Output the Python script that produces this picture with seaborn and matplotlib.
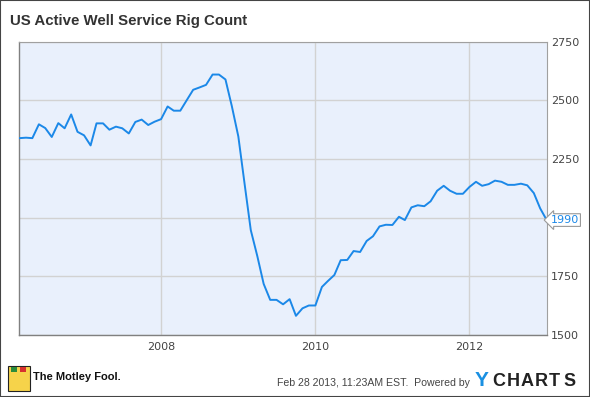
import numpy as np
import pandas as pd
import matplotlib
matplotlib.use("Agg")
import matplotlib.pyplot as plt
from matplotlib.patches import Rectangle
import seaborn as sns

# ---- data ----
start_month = "2006-03-01"
rig_count = [
    2339, 2341, 2339, 2398, 2382, 2344, 2403, 2381, 2440, 2366,
    2351, 2308, 2402, 2402, 2375, 2388, 2381, 2359, 2408, 2418,
    2395, 2409, 2420, 2474, 2456, 2456, 2500, 2545, 2555, 2566,
    2610, 2610, 2589, 2476, 2346, 2135, 1947, 1836, 1718, 1650,
    1650, 1631, 1653, 1582, 1614, 1626, 1626, 1705, 1730, 1756,
    1819, 1820, 1858, 1854, 1901, 1921, 1963, 1970, 1969, 2004,
    1990, 2044, 2053, 2049, 2070, 2115, 2136, 2115, 2102, 2102,
    2131, 2153, 2136, 2143, 2158, 2153, 2140, 2140, 2145, 2138,
    2105, 2040, 1990,
]
y_ticks = [1500, 1750, 2000, 2250, 2500, 2750]
# the 2000 label is hidden behind the last-value flag in the reference
y_tick_labels = ["1500", "1750", "", "2250", "2500", "2750"]
x_tick_dates = ["2008-01-01", "2010-01-01", "2012-01-01"]
x_tick_labels = ["2008", "2010", "2012"]
last_label = "1990"
title = "US Active Well Service Rig Count"
footer_date = "Feb 28 2013, 11:23AM EST.  Powered by"
brand_left = "The Motley Fool."
brand_right_y = "Y"
brand_right_rest = "CHARTS"

dates = pd.date_range(start_month, periods=len(rig_count), freq="MS")
df = pd.DataFrame({"date": dates, "count": rig_count})

# ---- style ----
sns.set_style("white")
plt.rcParams["font.family"] = ["DejaVu Sans"]

line_color = "#1b88e8"
fig = plt.figure(figsize=(5.9, 3.97), dpi=100)
ax = fig.add_axes([0.033, 0.156, 0.8936, 0.739])
ax.set_facecolor("#e9f0fc")

sns.lineplot(data=df, x="date", y="count", ax=ax, color=line_color,
             linewidth=1.4, zorder=3)

ax.set_xlim(dates[0], dates[-1])
ax.set_ylim(1500, 2750)
ax.set_yticks(y_ticks)
ax.set_yticklabels(y_tick_labels)
ax.set_xticks(pd.to_datetime(x_tick_dates))
ax.set_xticklabels(x_tick_labels)
ax.yaxis.tick_right()
ax.tick_params(axis="y", length=0, pad=3, labelsize=8, labelcolor="#444444")
ax.tick_params(axis="x", length=0, pad=5, labelsize=8, labelcolor="#444444")
ax.set_xlabel("")
ax.set_ylabel("")
ax.grid(True, color="#d2d2d2", linewidth=1.0, zorder=0)
ax.set_axisbelow(True)
for side in ["left", "bottom"]:
    ax.spines[side].set_color("#808080")
    ax.spines[side].set_linewidth(1.0)
for side in ["top", "right"]:
    ax.spines[side].set_color("#a0a0a0")
    ax.spines[side].set_linewidth(0.8)

# last value flag
ax.annotate(last_label, xy=(1.0, df["count"].iloc[-1]),
            xycoords=("axes fraction", "data"),
            xytext=(3, 0), textcoords="offset points",
            ha="left", va="center", fontsize=8, color=line_color,
            bbox=dict(boxstyle="larrow,pad=0.12", fc="white", ec="#999999", lw=0.8),
            zorder=10, annotation_clip=False)

# title
fig.text(0.017, 0.948, title, fontsize=10.8, fontweight="bold", color="#333333",
         family="Liberation Sans", ha="left", va="center")

# footer: logo block
fig.patches.append(Rectangle((8 / 590, 1 - 391 / 397), 22 / 590, 25 / 397,
                             transform=fig.transFigure, facecolor="#f6d34a",
                             edgecolor="#222222", lw=0.8))
fig.patches.append(Rectangle((11 / 590, 1 - 372 / 397), 6 / 590, 5 / 397,
                             transform=fig.transFigure, facecolor="#2a8c3c", edgecolor="none"))
fig.patches.append(Rectangle((20 / 590, 1 - 372 / 397), 6 / 590, 5 / 397,
                             transform=fig.transFigure, facecolor="#d7312e", edgecolor="none"))
fig.text(33 / 590, 1 - 377 / 397, brand_left, fontsize=8, fontweight="bold",
         color="#111111", family="Liberation Sans", ha="left", va="center")
fig.text(470 / 590, 1 - 383 / 397, footer_date, fontsize=7.6, color="#444444",
         family="Liberation Sans", ha="right", va="center")
fig.text(475 / 590, 1 - 381 / 397, brand_right_y, fontsize=15, fontweight="bold",
         color="#1a90e2", family="Liberation Sans", ha="left", va="center")
for i, ch in enumerate(brand_right_rest):
    fig.text((492 + i * 14.3) / 590, 1 - 381 / 397, ch, fontsize=13, fontweight="bold",
             color="#222222", family="Liberation Sans", ha="left", va="center")

# outer border
fig.patches.append(Rectangle((0, 0), 1, 1, transform=fig.transFigure, fill=False,
                             edgecolor="#444444", lw=1.5))

fig.savefig("out.png", dpi=100)
